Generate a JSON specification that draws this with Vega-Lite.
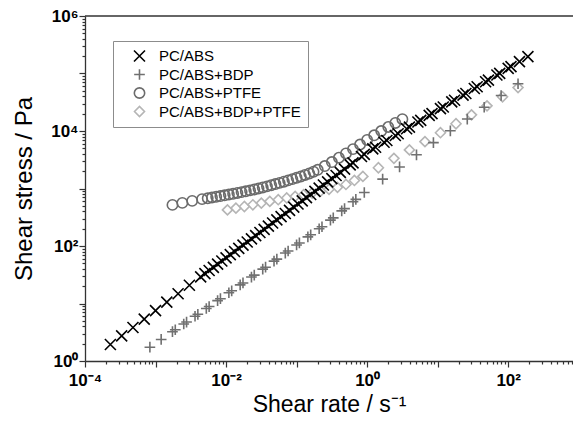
{
  "$schema": "https://vega.github.io/schema/vega-lite/v6.json",
  "width": 488,
  "height": 345,
  "autosize": {"type": "none"},
  "padding": {"left": 85, "top": 16, "right": 0, "bottom": 64},
  "background": "white",
  "config": {
    "view": {"stroke": null},
    "font": "Liberation Sans",
    "axisY": {
      "titleFont": "Liberation Sans", "titleFontSize": 24, "titleFontWeight": "normal", "titleColor": "#000000", "titlePadding": 14,
      "labelFont": "Liberation Sans", "labelFontSize": 17, "labelFontWeight": "bold", "labelColor": "#000000",
      "labelFlush": false, "labelOverlap": false, "labelBound": false, "labelPadding": 1,
      "tickColor": "#333333", "tickWidth": 1.2,
      "domainColor": "#333333", "domainWidth": 1.3,
      "grid": false
    },
    "legend": {
      "orient": "none",
      "legendX": 28,
      "legendY": 25,
      "strokeColor": "#8c8c8c",
      "padding": 7,
      "labelFont": "Liberation Sans",
      "labelFontSize": 15,
      "labelColor": "#000000",
      "rowPadding": 2.5,
      "clipHeight": 16,
      "labelOffset": 12,
      "symbolOffset": 12,
      "symbolStrokeWidth": 1.6,
      "title": null
    }
  },
  "datasets": {
    "pts": [
      {"s": "PC/ABS+BDP+PTFE", "x": 0.01047, "y": 424.6},
      {"s": "PC/ABS+BDP+PTFE", "x": 0.0138, "y": 455.0},
      {"s": "PC/ABS+BDP+PTFE", "x": 0.0182, "y": 486.4},
      {"s": "PC/ABS+BDP+PTFE", "x": 0.02399, "y": 521.2},
      {"s": "PC/ABS+BDP+PTFE", "x": 0.03162, "y": 557.2},
      {"s": "PC/ABS+BDP+PTFE", "x": 0.04169, "y": 597.0},
      {"s": "PC/ABS+BDP+PTFE", "x": 0.05495, "y": 638.3},
      {"s": "PC/ABS+BDP+PTFE", "x": 0.07244, "y": 683.9},
      {"s": "PC/ABS+BDP+PTFE", "x": 0.0955, "y": 729.5},
      {"s": "PC/ABS+BDP+PTFE", "x": 0.1259, "y": 779.8},
      {"s": "PC/ABS+BDP+PTFE", "x": 0.166, "y": 833.7},
      {"s": "PC/ABS+BDP+PTFE", "x": 0.2188, "y": 897.4},
      {"s": "PC/ABS+BDP+PTFE", "x": 0.2884, "y": 968.3},
      {"s": "PC/ABS+BDP+PTFE", "x": 0.3802, "y": 1047},
      {"s": "PC/ABS+BDP+PTFE", "x": 0.5012, "y": 1175},
      {"s": "PC/ABS+BDP+PTFE", "x": 0.6607, "y": 1380},
      {"s": "PC/ABS+BDP+PTFE", "x": 0.871, "y": 1622},
      {"s": "PC/ABS+BDP+PTFE", "x": 1.445, "y": 2296},
      {"s": "PC/ABS+BDP+PTFE", "x": 2.399, "y": 3342},
      {"s": "PC/ABS+BDP+PTFE", "x": 3.981, "y": 4688},
      {"s": "PC/ABS+BDP+PTFE", "x": 6.607, "y": 6531},
      {"s": "PC/ABS+BDP+PTFE", "x": 10.96, "y": 9333},
      {"s": "PC/ABS+BDP+PTFE", "x": 18.2, "y": 13370},
      {"s": "PC/ABS+BDP+PTFE", "x": 30.2, "y": 19100},
      {"s": "PC/ABS+BDP+PTFE", "x": 50.12, "y": 27350},
      {"s": "PC/ABS+BDP+PTFE", "x": 83.18, "y": 39360},
      {"s": "PC/ABS+BDP+PTFE", "x": 138.0, "y": 56890},

      {"s": "PC/ABS+PTFE", "x": 0.001738, "y": 518.8},
      {"s": "PC/ABS+PTFE", "x": 0.002399, "y": 562.3},
      {"s": "PC/ABS+PTFE", "x": 0.003311, "y": 609.5},
      {"s": "PC/ABS+PTFE", "x": 0.004571, "y": 653.1},
      {"s": "PC/ABS+PTFE", "x": 0.005495, "y": 676.1},
      {"s": "PC/ABS+PTFE", "x": 0.00631, "y": 696.6},
      {"s": "PC/ABS+PTFE", "x": 0.007244, "y": 716.1},
      {"s": "PC/ABS+PTFE", "x": 0.008318, "y": 738.0},
      {"s": "PC/ABS+PTFE", "x": 0.00955, "y": 760.3},
      {"s": "PC/ABS+PTFE", "x": 0.01096, "y": 783.4},
      {"s": "PC/ABS+PTFE", "x": 0.01259, "y": 809.1},
      {"s": "PC/ABS+PTFE", "x": 0.01445, "y": 835.6},
      {"s": "PC/ABS+PTFE", "x": 0.0166, "y": 865.0},
      {"s": "PC/ABS+PTFE", "x": 0.01905, "y": 895.4},
      {"s": "PC/ABS+PTFE", "x": 0.02188, "y": 926.8},
      {"s": "PC/ABS+PTFE", "x": 0.02512, "y": 961.6},
      {"s": "PC/ABS+PTFE", "x": 0.02884, "y": 1000},
      {"s": "PC/ABS+PTFE", "x": 0.03311, "y": 1042},
      {"s": "PC/ABS+PTFE", "x": 0.03802, "y": 1089},
      {"s": "PC/ABS+PTFE", "x": 0.04365, "y": 1140},
      {"s": "PC/ABS+PTFE", "x": 0.05012, "y": 1194},
      {"s": "PC/ABS+PTFE", "x": 0.05754, "y": 1253},
      {"s": "PC/ABS+PTFE", "x": 0.06607, "y": 1315},
      {"s": "PC/ABS+PTFE", "x": 0.07586, "y": 1384},
      {"s": "PC/ABS+PTFE", "x": 0.0871, "y": 1455},
      {"s": "PC/ABS+PTFE", "x": 0.1, "y": 1535},
      {"s": "PC/ABS+PTFE", "x": 0.1148, "y": 1622},
      {"s": "PC/ABS+PTFE", "x": 0.1318, "y": 1718},
      {"s": "PC/ABS+PTFE", "x": 0.1514, "y": 1828},
      {"s": "PC/ABS+PTFE", "x": 0.1738, "y": 1959},
      {"s": "PC/ABS+PTFE", "x": 0.1995, "y": 2113},
      {"s": "PC/ABS+PTFE", "x": 0.2512, "y": 2455},
      {"s": "PC/ABS+PTFE", "x": 0.3162, "y": 2884},
      {"s": "PC/ABS+PTFE", "x": 0.3981, "y": 3428},
      {"s": "PC/ABS+PTFE", "x": 0.5012, "y": 4074},
      {"s": "PC/ABS+PTFE", "x": 0.631, "y": 4842},
      {"s": "PC/ABS+PTFE", "x": 0.7943, "y": 5821},
      {"s": "PC/ABS+PTFE", "x": 1.0, "y": 6998},
      {"s": "PC/ABS+PTFE", "x": 1.259, "y": 8414},
      {"s": "PC/ABS+PTFE", "x": 1.585, "y": 10000},
      {"s": "PC/ABS+PTFE", "x": 1.995, "y": 11750},
      {"s": "PC/ABS+PTFE", "x": 2.512, "y": 13800},
      {"s": "PC/ABS+PTFE", "x": 3.162, "y": 16030},

      {"s": "PC/ABS+BDP", "x": 0.0008318, "y": 1.738},
      {"s": "PC/ABS+BDP", "x": 0.001202, "y": 2.369},
      {"s": "PC/ABS+BDP", "x": 0.001738, "y": 3.231},
      {"s": "PC/ABS+BDP", "x": 0.001905, "y": 3.491},
      {"s": "PC/ABS+BDP", "x": 0.002512, "y": 4.405},
      {"s": "PC/ABS+BDP", "x": 0.002754, "y": 4.76},
      {"s": "PC/ABS+BDP", "x": 0.003631, "y": 6.006},
      {"s": "PC/ABS+BDP", "x": 0.003981, "y": 6.492},
      {"s": "PC/ABS+BDP", "x": 0.005248, "y": 8.189},
      {"s": "PC/ABS+BDP", "x": 0.005754, "y": 8.854},
      {"s": "PC/ABS+BDP", "x": 0.007586, "y": 11.21},
      {"s": "PC/ABS+BDP", "x": 0.008318, "y": 12.13},
      {"s": "PC/ABS+BDP", "x": 0.01096, "y": 15.37},
      {"s": "PC/ABS+BDP", "x": 0.01202, "y": 16.62},
      {"s": "PC/ABS+BDP", "x": 0.01585, "y": 21.05},
      {"s": "PC/ABS+BDP", "x": 0.01738, "y": 22.78},
      {"s": "PC/ABS+BDP", "x": 0.02291, "y": 28.85},
      {"s": "PC/ABS+BDP", "x": 0.02512, "y": 31.21},
      {"s": "PC/ABS+BDP", "x": 0.03311, "y": 39.54},
      {"s": "PC/ABS+BDP", "x": 0.03631, "y": 42.77},
      {"s": "PC/ABS+BDP", "x": 0.04786, "y": 54.56},
      {"s": "PC/ABS+BDP", "x": 0.05248, "y": 59.16},
      {"s": "PC/ABS+BDP", "x": 0.06918, "y": 75.44},
      {"s": "PC/ABS+BDP", "x": 0.07586, "y": 81.82},
      {"s": "PC/ABS+BDP", "x": 0.1, "y": 104.3},
      {"s": "PC/ABS+BDP", "x": 0.1096, "y": 113.1},
      {"s": "PC/ABS+BDP", "x": 0.1445, "y": 144.3},
      {"s": "PC/ABS+BDP", "x": 0.1585, "y": 156.5},
      {"s": "PC/ABS+BDP", "x": 0.2089, "y": 199.5},
      {"s": "PC/ABS+BDP", "x": 0.2291, "y": 216.4},
      {"s": "PC/ABS+BDP", "x": 0.302, "y": 281.8},
      {"s": "PC/ABS+BDP", "x": 0.3311, "y": 309.0},
      {"s": "PC/ABS+BDP", "x": 0.4365, "y": 407.4},
      {"s": "PC/ABS+BDP", "x": 0.4786, "y": 446.7},
      {"s": "PC/ABS+BDP", "x": 0.631, "y": 588.8},
      {"s": "PC/ABS+BDP", "x": 0.6918, "y": 645.7},
      {"s": "PC/ABS+BDP", "x": 0.912, "y": 851.1},
      {"s": "PC/ABS+BDP", "x": 1.66, "y": 1457},
      {"s": "PC/ABS+BDP", "x": 2.884, "y": 2371},
      {"s": "PC/ABS+BDP", "x": 5.012, "y": 3855},
      {"s": "PC/ABS+BDP", "x": 8.71, "y": 6268},
      {"s": "PC/ABS+BDP", "x": 15.14, "y": 10078},
      {"s": "PC/ABS+BDP", "x": 26.3, "y": 16140},
      {"s": "PC/ABS+BDP", "x": 45.71, "y": 25850},
      {"s": "PC/ABS+BDP", "x": 79.43, "y": 41390},
      {"s": "PC/ABS+BDP", "x": 138.0, "y": 66270},

      {"s": "PC/ABS", "x": 0.0002291, "y": 1.94},
      {"s": "PC/ABS", "x": 0.0003311, "y": 2.73},
      {"s": "PC/ABS", "x": 0.0004786, "y": 3.82},
      {"s": "PC/ABS", "x": 0.0006918, "y": 5.36},
      {"s": "PC/ABS", "x": 0.001, "y": 7.52},
      {"s": "PC/ABS", "x": 0.001445, "y": 10.54},
      {"s": "PC/ABS", "x": 0.002089, "y": 14.79},
      {"s": "PC/ABS", "x": 0.00302, "y": 20.72},
      {"s": "PC/ABS", "x": 0.004365, "y": 29.07},
      {"s": "PC/ABS", "x": 0.005012, "y": 33.0},
      {"s": "PC/ABS", "x": 0.005754, "y": 37.5},
      {"s": "PC/ABS", "x": 0.006607, "y": 42.5},
      {"s": "PC/ABS", "x": 0.007586, "y": 48.3},
      {"s": "PC/ABS", "x": 0.00871, "y": 54.8},
      {"s": "PC/ABS", "x": 0.01, "y": 62.2},
      {"s": "PC/ABS", "x": 0.01148, "y": 70.7},
      {"s": "PC/ABS", "x": 0.01318, "y": 80.2},
      {"s": "PC/ABS", "x": 0.01514, "y": 91.0},
      {"s": "PC/ABS", "x": 0.01738, "y": 103.4},
      {"s": "PC/ABS", "x": 0.01995, "y": 117.3},
      {"s": "PC/ABS", "x": 0.02291, "y": 133.2},
      {"s": "PC/ABS", "x": 0.0263, "y": 151.2},
      {"s": "PC/ABS", "x": 0.0302, "y": 171.6},
      {"s": "PC/ABS", "x": 0.03467, "y": 194.9},
      {"s": "PC/ABS", "x": 0.03981, "y": 221.2},
      {"s": "PC/ABS", "x": 0.04571, "y": 251.2},
      {"s": "PC/ABS", "x": 0.05248, "y": 285.1},
      {"s": "PC/ABS", "x": 0.06026, "y": 323.6},
      {"s": "PC/ABS", "x": 0.06918, "y": 367.4},
      {"s": "PC/ABS", "x": 0.07943, "y": 417.1},
      {"s": "PC/ABS", "x": 0.0912, "y": 473.4},
      {"s": "PC/ABS", "x": 0.1047, "y": 537.5},
      {"s": "PC/ABS", "x": 0.1202, "y": 610.1},
      {"s": "PC/ABS", "x": 0.138, "y": 692.7},
      {"s": "PC/ABS", "x": 0.1585, "y": 786.3},
      {"s": "PC/ABS", "x": 0.182, "y": 892.7},
      {"s": "PC/ABS", "x": 0.2089, "y": 1013},
      {"s": "PC/ABS", "x": 0.2399, "y": 1150},
      {"s": "PC/ABS", "x": 0.2754, "y": 1306},
      {"s": "PC/ABS", "x": 0.3162, "y": 1483},
      {"s": "PC/ABS", "x": 0.3631, "y": 1683},
      {"s": "PC/ABS", "x": 0.4169, "y": 1911},
      {"s": "PC/ABS", "x": 0.4786, "y": 2169},
      {"s": "PC/ABS", "x": 0.5754, "y": 2569},
      {"s": "PC/ABS", "x": 0.631, "y": 2795},
      {"s": "PC/ABS", "x": 0.8318, "y": 3603},
      {"s": "PC/ABS", "x": 0.912, "y": 3921},
      {"s": "PC/ABS", "x": 1.202, "y": 4880},
      {"s": "PC/ABS", "x": 1.318, "y": 5220},
      {"s": "PC/ABS", "x": 1.738, "y": 6386},
      {"s": "PC/ABS", "x": 1.905, "y": 6830},
      {"s": "PC/ABS", "x": 2.512, "y": 8356},
      {"s": "PC/ABS", "x": 2.754, "y": 8939},
      {"s": "PC/ABS", "x": 3.631, "y": 10934},
      {"s": "PC/ABS", "x": 3.981, "y": 11695},
      {"s": "PC/ABS", "x": 5.248, "y": 14310},
      {"s": "PC/ABS", "x": 5.754, "y": 15300},
      {"s": "PC/ABS", "x": 7.586, "y": 18730},
      {"s": "PC/ABS", "x": 8.318, "y": 20030},
      {"s": "PC/ABS", "x": 10.96, "y": 24500},
      {"s": "PC/ABS", "x": 12.02, "y": 26200},
      {"s": "PC/ABS", "x": 15.85, "y": 32060},
      {"s": "PC/ABS", "x": 17.38, "y": 34290},
      {"s": "PC/ABS", "x": 22.91, "y": 41960},
      {"s": "PC/ABS", "x": 25.12, "y": 44870},
      {"s": "PC/ABS", "x": 33.11, "y": 54900},
      {"s": "PC/ABS", "x": 36.31, "y": 58710},
      {"s": "PC/ABS", "x": 47.86, "y": 71850},
      {"s": "PC/ABS", "x": 52.48, "y": 76850},
      {"s": "PC/ABS", "x": 69.18, "y": 94010},
      {"s": "PC/ABS", "x": 75.86, "y": 100550},
      {"s": "PC/ABS", "x": 100, "y": 123000},
      {"s": "PC/ABS", "x": 109.6, "y": 131600},
      {"s": "PC/ABS", "x": 144.5, "y": 161000},
      {"s": "PC/ABS", "x": 190.5, "y": 197000}
    ],
    "border": [{"y": 1000000}]
  },
  "layer": [
    {
      "data": {"name": "pts"},
      "mark": {"type": "point", "filled": false, "strokeWidth": 1.6, "opacity": 1},
      "encoding": {
        "x": {
          "field": "x", "type": "quantitative",
          "scale": {"type": "log", "domain": [0.0001, 830], "nice": false},
          "axis": {
            "title": "Shear rate / s⁻¹",
            "titleFont": "Liberation Sans", "titleFontSize": 23, "titleFontWeight": "normal", "titleColor": "#000000", "titlePadding": 5,
            "values": [0.0001,0.0002,0.0003,0.0004,0.0005,0.0006,0.0007,0.0008,0.0009,0.001,0.002,0.003,0.004,0.005,0.006,0.007,0.008,0.009,0.01,0.02,0.03,0.04,0.05,0.06,0.07,0.08,0.09,0.1,0.2,0.3,0.4,0.5,0.6,0.7,0.8,0.9,1,2,3,4,5,6,7,8,9,10,20,30,40,50,60,70,80,90,100,200,300,400,500,600,700,800],
            "labelExpr": "datum.value == 0.0001 ? '10⁻⁴' : datum.value == 0.01 ? '10⁻²' : datum.value == 1 ? '10⁰' : datum.value == 100 ? '10²' : ''",
            "labelFont": "Liberation Sans", "labelFontSize": 17, "labelFontWeight": "bold", "labelColor": "#000000",
            "labelFlush": false, "labelOverlap": false, "labelBound": false, "labelPadding": 5,
            "tickSize": {"condition": {"test": "abs(log(datum.value)/LN10 - round(log(datum.value)/LN10)) < 0.001", "value": 6}, "value": 3},
            "tickColor": "#333333", "tickWidth": 1.2,
            "domainColor": "#333333", "domainWidth": 1.3,
            "grid": false
          }
        },
        "y": {
          "field": "y", "type": "quantitative",
          "scale": {"type": "log", "domain": [1, 1000000], "nice": false},
          "axis": {
            "title": "Shear stress / Pa",
            "values": [1,2,3,4,5,6,7,8,9,10,20,30,40,50,60,70,80,90,100,200,300,400,500,600,700,800,900,1000,2000,3000,4000,5000,6000,7000,8000,9000,10000,20000,30000,40000,50000,60000,70000,80000,90000,100000,200000,300000,400000,500000,600000,700000,800000,900000,1000000],
            "labelExpr": "datum.value == 1 ? '10⁰' : datum.value == 100 ? '10²' : datum.value == 10000 ? '10⁴' : datum.value == 1000000 ? '10⁶' : ''",
            "tickSize": {"condition": {"test": "abs(log(datum.value)/LN10 - round(log(datum.value)/LN10)) < 0.001", "value": 6}, "value": 3}
          }
        },
        "shape": {
          "field": "s", "type": "nominal",
          "scale": {"domain": ["PC/ABS", "PC/ABS+BDP", "PC/ABS+PTFE", "PC/ABS+BDP+PTFE"], "range": ["M-1,-1L1,1M-1,1L1,-1", "M-1,0L1,0M0,-1L0,1", "circle", "diamond"]},
          "legend": {"title": null}
        },
        "color": {
          "field": "s", "type": "nominal",
          "scale": {"domain": ["PC/ABS", "PC/ABS+BDP", "PC/ABS+PTFE", "PC/ABS+BDP+PTFE"], "range": ["#000000", "#707070", "#6b6b6b", "#b5b5b5"]},
          "legend": {"title": null}
        },
        "size": {
          "field": "s", "type": "nominal",
          "scale": {"domain": ["PC/ABS", "PC/ABS+BDP", "PC/ABS+PTFE", "PC/ABS+BDP+PTFE"], "range": [121, 100, 62, 90]},
          "legend": {"title": null}
        }
      }
    },
    {
      "data": {"name": "border"},
      "mark": {"type": "rule", "color": "#333333", "strokeWidth": 1.3},
      "encoding": {
        "y": {"field": "y", "type": "quantitative", "title": "Shear stress / Pa"}
      }
    }
  ]
}
